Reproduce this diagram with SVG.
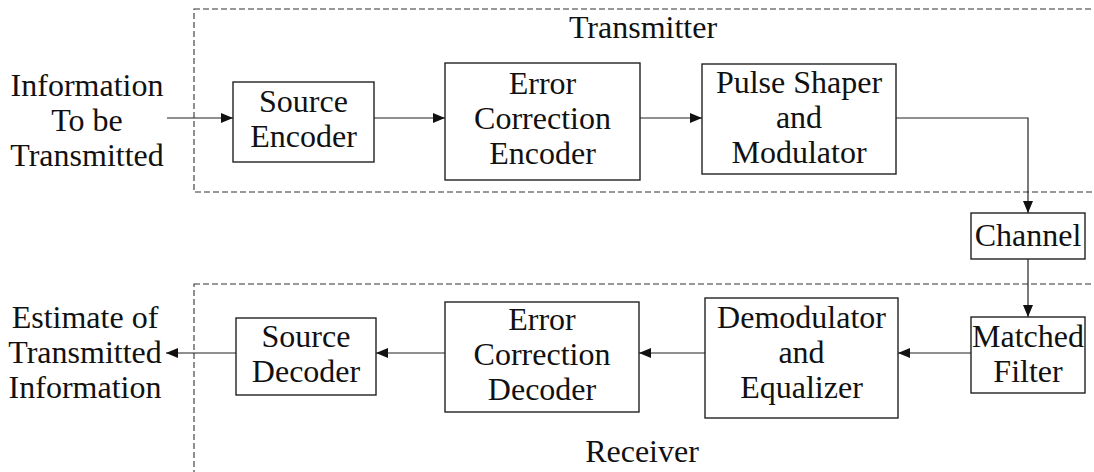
<svg xmlns="http://www.w3.org/2000/svg" width="1094" height="472" viewBox="0 0 1094 472">
  <style>
    .blk { fill: #fff; stroke: #222; stroke-width: 1.4; }
    .grp { fill: none; stroke: #333; stroke-width: 1.1; stroke-dasharray: 6 3; }
    .wire { fill: none; stroke: #222; stroke-width: 1.2; }
    text { font-family: "Liberation Serif", "Times New Roman", serif; font-size: 32px; fill: #111; text-anchor: middle; }
  </style>
  <defs>
    <marker id="arr" viewBox="0 0 12 10" refX="12" refY="5" markerWidth="12" markerHeight="10" markerUnits="userSpaceOnUse" orient="auto">
      <path d="M0,0 L12,5 L0,10 Z" fill="#111"/>
    </marker>
  </defs>

  <rect width="1094" height="472" fill="#fff"/>

  <!-- dashed subsystem outlines -->
  <g id="transmitter">
    <rect class="grp" x="194" y="9" width="920" height="183"/>
    <text x="643" y="38">Transmitter</text>
  </g>
  <g id="receiver">
    <rect class="grp" x="194" y="284" width="920" height="220"/>
    <text x="642" y="462">Receiver</text>
  </g>

  <!-- external labels -->
  <g id="info-in">
    <text x="87" y="96">Information</text>
    <text x="87" y="131">To be</text>
    <text x="87" y="166">Transmitted</text>
  </g>
  <g id="info-out">
    <text x="85" y="328">Estimate of</text>
    <text x="85" y="363">Transmitted</text>
    <text x="85" y="398">Information</text>
  </g>

  <!-- connectors -->
  <g id="connectors">
    <line class="wire" x1="167" y1="118" x2="233" y2="118" marker-end="url(#arr)"/>
    <line class="wire" x1="374" y1="118" x2="445" y2="118" marker-end="url(#arr)"/>
    <line class="wire" x1="640" y1="118" x2="702" y2="118" marker-end="url(#arr)"/>
    <polyline class="wire" points="896,118 1028,118 1028,213" marker-end="url(#arr)"/>
    <line class="wire" x1="1028" y1="259" x2="1028" y2="317" marker-end="url(#arr)"/>
    <line class="wire" x1="971" y1="353" x2="898" y2="353" marker-end="url(#arr)"/>
    <line class="wire" x1="705" y1="353" x2="639" y2="353" marker-end="url(#arr)"/>
    <line class="wire" x1="445" y1="353" x2="376" y2="353" marker-end="url(#arr)"/>
    <line class="wire" x1="236" y1="353" x2="166" y2="353" marker-end="url(#arr)"/>
  </g>

  <!-- transmitter blocks -->
  <g id="source-encoder">
    <rect class="blk" x="233" y="82" width="141" height="80"/>
    <text x="303.5" y="112">Source</text>
    <text x="303.5" y="147">Encoder</text>
  </g>
  <g id="ecc-encoder">
    <rect class="blk" x="445" y="63" width="195" height="117"/>
    <text x="542.5" y="94">Error</text>
    <text x="542.5" y="129">Correction</text>
    <text x="542.5" y="164">Encoder</text>
  </g>
  <g id="pulse-shaper">
    <rect class="blk" x="702" y="64" width="194" height="110"/>
    <text x="799" y="93">Pulse Shaper</text>
    <text x="799" y="128">and</text>
    <text x="799" y="163">Modulator</text>
  </g>

  <!-- channel -->
  <g id="channel">
    <rect class="blk" x="971" y="213" width="114" height="46"/>
    <text x="1028" y="246">Channel</text>
  </g>

  <!-- receiver blocks -->
  <g id="matched-filter">
    <rect class="blk" x="971" y="317" width="114" height="76"/>
    <text x="1028" y="347">Matched</text>
    <text x="1028" y="382">Filter</text>
  </g>
  <g id="demodulator">
    <rect class="blk" x="705" y="298" width="193" height="120"/>
    <text x="801.5" y="328">Demodulator</text>
    <text x="801.5" y="363">and</text>
    <text x="801.5" y="398">Equalizer</text>
  </g>
  <g id="ecc-decoder">
    <rect class="blk" x="445" y="302" width="194" height="110"/>
    <text x="542" y="330">Error</text>
    <text x="542" y="365">Correction</text>
    <text x="542" y="400">Decoder</text>
  </g>
  <g id="source-decoder">
    <rect class="blk" x="236" y="318" width="140" height="77"/>
    <text x="306" y="347">Source</text>
    <text x="306" y="382">Decoder</text>
  </g>
</svg>
